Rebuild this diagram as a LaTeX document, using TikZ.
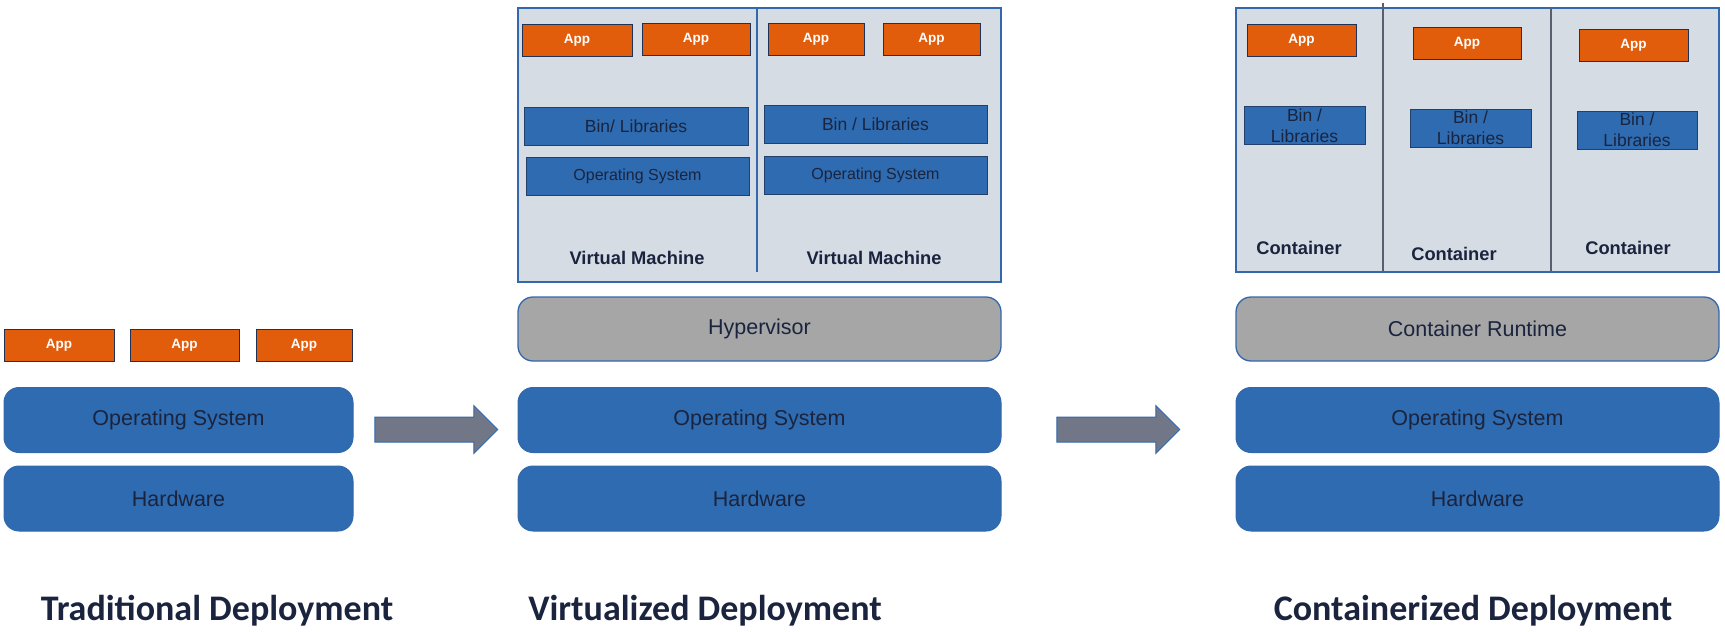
\documentclass[tikz,border=0pt]{standalone}
\usepackage{fontspec}
\setmainfont{Liberation Sans}
\newfontfamily\headfont{Carlito}
\usetikzlibrary{shapes.arrows}

\definecolor{boxblue}{RGB}{46,107,176}
\definecolor{edgeblue}{RGB}{52,104,172}
\definecolor{apporange}{RGB}{225,93,12}
\definecolor{rungray}{RGB}{166,166,166}
\definecolor{panelfill}{RGB}{214,220,228}
\definecolor{arrowgray}{RGB}{114,119,136}
\definecolor{inktext}{RGB}{27,36,62}

\tikzset{
  layer/.style={draw=edgeblue, fill=boxblue, line width=1pt, rounded corners=15pt,
    minimum height=65pt, inner sep=0pt, text=inktext, font=\fontsize{21.5}{24}\selectfont},
  engine/.style={layer, fill=rungray, line width=1.3pt},
  app/.style={draw=inktext!80!boxblue, fill=apporange, line width=0.9pt, minimum height=32pt,
    inner sep=0pt, text=white, font=\bfseries\fontsize{13.5}{15}\selectfont},
  libbox/.style={draw=inktext!60!boxblue, fill=boxblue, line width=0.8pt, minimum height=38pt,
    inner sep=0pt, text=inktext, align=center, font=\fontsize{17.5}{21}\selectfont},
  guestos/.style={libbox, font=\fontsize{16}{18}\selectfont},
  panel/.style={draw=edgeblue, fill=panelfill, line width=1.3pt, inner sep=0pt},
  divider/.style={draw=edgeblue, line width=1.2pt},
  cdivider/.style={draw=arrowgray!80!black, line width=1.2pt},
  boxname/.style={text=inktext, font=\bfseries\fontsize{18.3}{20}\selectfont},
  bigarrow/.style={single arrow, draw=edgeblue, fill=arrowgray, line width=1pt,
    inner xsep=0pt, inner ysep=12pt, minimum height=123pt,
    single arrow head extend=11.5pt},
  title/.style={text=inktext, font=\headfont\bfseries\fontsize{36}{40}\selectfont}
}

\begin{document}
\begin{tikzpicture}[x=1pt,y=-1pt]
\useasboundingbox (0,0) rectangle (1725,632);

% traditional
\node[app, minimum width=110pt] (tapp1) at (59,345.5) {App};
\node[app, minimum width=109pt] (tapp2) at (184.5,345.5) {App};
\node[app, minimum width=96pt] (tapp3) at (304,345.5) {App};
\node[layer, minimum width=349pt] (tos) at (178.5,420) {Operating System};
\node[layer, minimum width=349pt] (thw) at (178.5,498.5) {Hardware};
\node[title] (ttitle) at (217,611) {Traditional Deployment};

\node[bigarrow] (arr1) at (430,429.5) {};

% virtualized
\node[panel, minimum width=483pt, minimum height=274pt] (vmpanel) at (759.5,145) {};
\draw[divider] (757,9) -- (757,272);
\node[app, minimum width=110pt] (vapp1) at (577,40) {App};
\node[app, minimum width=108pt] (vapp2) at (696,39) {App};
\node[app, minimum width=96pt] (vapp3) at (816,39.5) {App};
\node[app, minimum width=97pt] (vapp4) at (931.5,39.5) {App};
\node[libbox, minimum width=224pt] (vbin1) at (636,126) {Bin/ Libraries};
\node[libbox, minimum width=223pt] (vbin2) at (875.5,124) {Bin / Libraries};
\node[guestos, minimum width=223pt] (vos1) at (637.5,176.5) {Operating System};
\node[guestos, minimum width=223pt] (vos2) at (875.5,175) {Operating System};
\node[boxname] (vm1) at (637,258) {Virtual Machine};
\node[boxname] (vm2) at (874,258) {Virtual Machine};
\node[engine, minimum width=483pt, minimum height=64pt] (hyper) at (759.5,329) {Hypervisor};
\node[layer, minimum width=483pt] (vos) at (759.5,420) {Operating System};
\node[layer, minimum width=483pt] (vhw) at (759.5,498.5) {Hardware};
\node[title] (vtitle) at (705,611) {Virtualized Deployment};

\node[bigarrow] (arr2) at (1112,429.5) {};

% containerized
\node[panel, minimum width=483pt, minimum height=264pt] (ctpanel) at (1477.5,140) {};
\draw[cdivider] (1383,3) -- (1383,272);
\draw[cdivider] (1551,8) -- (1551,272);
\node[app, minimum width=109pt] (capp1) at (1301.5,40.5) {App};
\node[app, minimum width=108pt] (capp2) at (1467,43.5) {App};
\node[app, minimum width=109pt] (capp3) at (1633.5,45) {App};
\node[libbox, minimum width=121pt] (cbin1) at (1304.5,125.5) {Bin /\\Libraries};
\node[libbox, minimum width=121pt] (cbin2) at (1470.5,128) {Bin /\\Libraries};
\node[libbox, minimum width=120pt] (cbin3) at (1637,130) {Bin /\\Libraries};
\node[boxname] (ct1) at (1299,248) {Container};
\node[boxname] (ct2) at (1454,254) {Container};
\node[boxname] (ct3) at (1628,248) {Container};
\node[engine, minimum width=483pt, minimum height=64pt] (runtime) at (1477.5,329) {Container Runtime};
\node[layer, minimum width=483pt] (cos) at (1477.5,420) {Operating System};
\node[layer, minimum width=483pt] (chw) at (1477.5,498.5) {Hardware};
\node[title] (ctitle) at (1473,611) {Containerized Deployment};
\end{tikzpicture}
\end{document}
